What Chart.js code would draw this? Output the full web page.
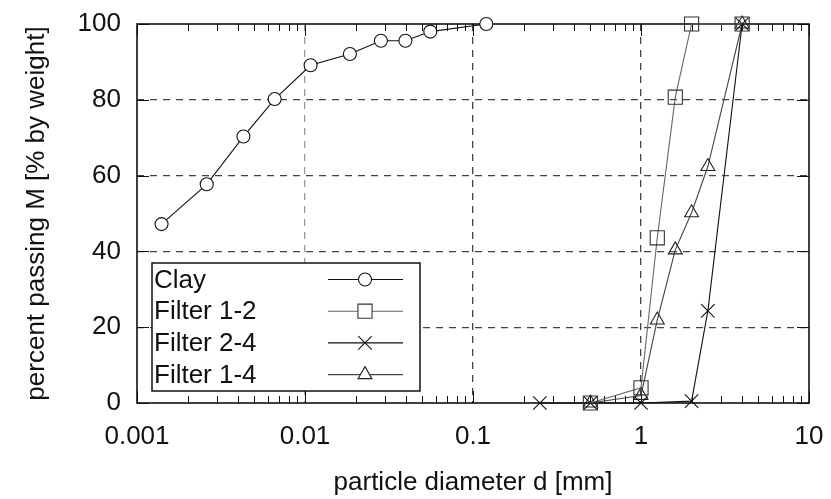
<!DOCTYPE html>
<html>
<head>
<meta charset="utf-8">
<script src="https://cdn.jsdelivr.net/npm/chart.js@4/dist/chart.umd.min.js"></script>
<style>
  body { margin: 0; background: #fff; }
  #grading { display: block; }
</style>
</head>
<body>
<canvas id="grading" width="831" height="499"></canvas>
<script>
// values (d in mm, M in %)
const clayD = [0.0014, 0.0026, 0.0043, 0.0066, 0.0108, 0.0185, 0.0283, 0.0396, 0.0557, 0.12];
const clayM = [47.2, 57.7, 70.3, 80.2, 89.1, 92.1, 95.6, 95.6, 98.0, 100];

const filter12D = [0.5, 1.0, 1.25, 1.6, 2.0, 4.0];
const filter12M = [0, 4.0, 43.6, 80.7, 100, 100];

const filter24D = [0.25, 0.5, 1.0, 2.0, 2.5, 4.0];
const filter24M = [0, 0, 0, 0.5, 24.3, 100];

const filter14D = [0.5, 1.0, 1.25, 1.6, 2.0, 2.5, 4.0];
const filter14M = [0, 2.0, 21.9, 40.4, 50.2, 62.4, 100];

const xTicks = [0.001, 0.01, 0.1, 1, 10];
const xTickLabels = ['0.001', '0.01', '0.1', '1', '10'];
const yTicks = [0, 20, 40, 60, 80, 100];

function toPoints(d, m) {
  return d.map((v, i) => ({ x: v, y: m[i] }));
}

// draws one marker the same way chart.js does (used for the legend samples)
function marker(ctx, style, r, x, y, fill) {
  ctx.beginPath();
  if (style === 'circle') {
    ctx.arc(x, y, r, 0, Math.PI * 2);
  } else if (style === 'rect') {
    const s = r * Math.SQRT1_2;
    ctx.rect(x - s, y - s, 2 * s, 2 * s);
  } else if (style === 'crossRot') {
    const s = r * Math.SQRT1_2;
    ctx.moveTo(x - s, y - s); ctx.lineTo(x + s, y + s);
    ctx.moveTo(x - s, y + s); ctx.lineTo(x + s, y - s);
  } else if (style === 'triangle') {
    let a = 0;
    ctx.moveTo(x + Math.sin(a) * r, y - Math.cos(a) * r);
    a += Math.PI * 2 / 3;
    ctx.lineTo(x + Math.sin(a) * r, y - Math.cos(a) * r);
    a += Math.PI * 2 / 3;
    ctx.lineTo(x + Math.sin(a) * r, y - Math.cos(a) * r);
    ctx.closePath();
  }
  if (fill && fill !== 'transparent') { ctx.fillStyle = fill; ctx.fill(); }
  ctx.stroke();
}

// frame with inward major + minor ticks (gnuplot look)
const frameTicks = {
  id: 'frameTicks',
  beforeDatasetsDraw(chart) {
    const { ctx, chartArea: a, scales } = chart;
    const xs = scales.x, ys = scales.y;
    ctx.save();
    ctx.strokeStyle = '#111';
    ctx.lineWidth = 1;
    ctx.beginPath();
    // minor log ticks
    for (let e = -3; e < 1; e++) {
      for (let k = 2; k <= 9; k++) {
        const px = Math.round(xs.getPixelForValue(k * Math.pow(10, e))) + 0.5;
        ctx.moveTo(px, a.bottom); ctx.lineTo(px, a.bottom - 7);
        ctx.moveTo(px, a.top); ctx.lineTo(px, a.top + 7);
      }
    }
    xTicks.forEach(v => {
      const px = Math.round(xs.getPixelForValue(v)) + 0.5;
      ctx.moveTo(px, a.bottom); ctx.lineTo(px, a.bottom - 12);
      ctx.moveTo(px, a.top); ctx.lineTo(px, a.top + 12);
    });
    yTicks.forEach(v => {
      const py = Math.round(ys.getPixelForValue(v)) + 0.5;
      ctx.moveTo(a.left, py); ctx.lineTo(a.left + 12, py);
      ctx.moveTo(a.right, py); ctx.lineTo(a.right - 12, py);
    });
    ctx.stroke();
    ctx.lineWidth = 1.6;
    ctx.strokeRect(a.left, a.top, a.right - a.left, a.bottom - a.top);
    ctx.restore();
  }
};

// boxed legend inside the plot, lower left
const legendBox = {
  id: 'legendBox',
  afterDatasetsDraw(chart) {
    const { ctx, chartArea: a } = chart;
    const left = a.left + 15, top = a.bottom - 140, w = 268, h = 128;
    ctx.save();
    ctx.fillStyle = '#fff';
    ctx.fillRect(left, top, w, h);
    ctx.strokeStyle = '#111';
    ctx.lineWidth = 1.5;
    ctx.strokeRect(left, top, w, h);
    ctx.font = '26px "Liberation Sans", Arial, sans-serif';
    ctx.textBaseline = 'middle';
    chart.data.datasets.forEach((ds, i) => {
      const y = top + 16.5 + i * 31.7;
      ctx.fillStyle = '#111';
      ctx.fillText(ds.label, left + 2, y + 1);
      ctx.strokeStyle = ds.borderColor;
      ctx.lineWidth = ds.borderWidth;
      ctx.beginPath();
      ctx.moveTo(left + 176, y); ctx.lineTo(left + 251, y);
      ctx.stroke();
      ctx.strokeStyle = ds.pointBorderColor;
      marker(ctx, ds.pointStyle, ds.pointRadius, left + 213, y, '#fff');
    });
    ctx.restore();
  }
};

function generateChart() {
  const data = {
    datasets: [
      {
        label: 'Clay',
        data: toPoints(clayD, clayM),
        borderColor: '#111', pointBorderColor: '#111', pointBackgroundColor: '#fff',
        pointStyle: 'circle', pointRadius: 6.5,
      },
      {
        label: 'Filter 1-2',
        data: toPoints(filter12D, filter12M),
        borderColor: '#666', pointBorderColor: '#333', pointBackgroundColor: 'transparent',
        pointStyle: 'rect', pointRadius: 10,
      },
      {
        label: 'Filter 2-4',
        data: toPoints(filter24D, filter24M),
        borderColor: '#111', pointBorderColor: '#111', pointBackgroundColor: 'transparent',
        pointStyle: 'crossRot', pointRadius: 9.5,
      },
      {
        label: 'Filter 1-4',
        data: toPoints(filter14D, filter14M),
        borderColor: '#444', pointBorderColor: '#222', pointBackgroundColor: 'transparent',
        pointStyle: 'triangle', pointRadius: 8,
      },
    ].map(ds => Object.assign({
      showLine: true, borderWidth: 1.1, pointBorderWidth: 1.1,
      pointHoverRadius: ds.pointRadius, clip: false, tension: 0,
    }, ds)),
  };

  const options = {
    responsive: false,
    animation: false,
    devicePixelRatio: 1,
    layout: { padding: { top: 24, right: 22, left: 0, bottom: 0 } },
    plugins: { legend: { display: false }, tooltip: { enabled: false } },
    scales: {
      x: {
        type: 'logarithmic',
        min: 0.001, max: 10,
        afterBuildTicks: s => { s.ticks = xTicks.map(v => ({ value: v })); },
        // fixed axis height, and no extra room asked for the end labels
        afterFit: s => { s.height = 96; s.paddingLeft = 0; s.paddingRight = 0; },
        ticks: {
          padding: 18, color: '#111', maxRotation: 0, autoSkip: false,
          callback: (v) => xTickLabels[xTicks.indexOf(v)] ?? '',
        },
        grid: {
          drawTicks: false, lineWidth: 1.3,
          color: c => (c.tick.value === 0.001 || c.tick.value === 10) ? 'transparent'
            : (c.tick.value === 0.01 ? '#9a9a9a' : '#444'),
        },
        border: { display: false, dash: [7, 6] },
        title: {
          display: true, text: 'particle diameter d [mm]', color: '#111',
          padding: { top: 0, bottom: 1 },
        },
      },
      y: {
        min: 0, max: 100,
        afterBuildTicks: s => { s.ticks = yTicks.map(v => ({ value: v })); },
        afterFit: s => { s.width = 137; s.paddingTop = 0; s.paddingBottom = 0; },
        ticks: { padding: 16, color: '#111' },
        grid: {
          drawTicks: false, lineWidth: 1.3,
          color: c => (c.tick.value === 0 || c.tick.value === 100) ? 'transparent' : '#444',
        },
        border: { display: false, dash: [7, 6] },
        title: {
          display: true, text: 'percent passing M [% by weight]', color: '#111',
          padding: { top: 21, bottom: 0 },
        },
      },
    },
  };

  Chart.defaults.font.family = '"Liberation Sans", Arial, sans-serif';
  Chart.defaults.font.size = 26;

  new Chart(document.getElementById('grading'), {
    type: 'scatter',
    data,
    options,
    plugins: [frameTicks, legendBox],
  });
}
generateChart();
</script>
</body>
</html>
